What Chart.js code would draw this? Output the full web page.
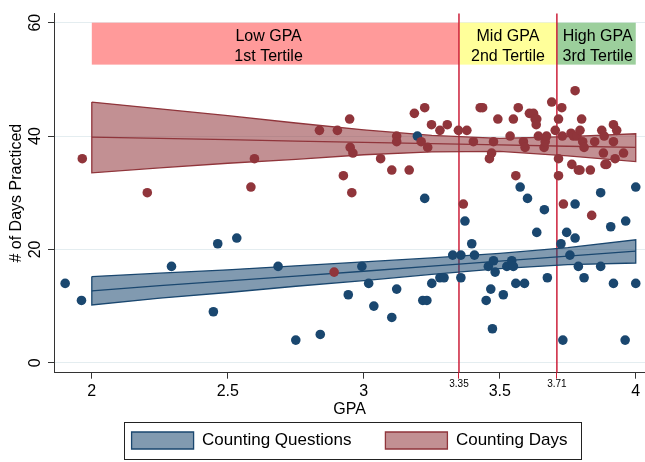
<!DOCTYPE html>
<html lang="en">
<head>
<meta charset="UTF-8">
<title>Days practiced by GPA</title>
<script src="https://cdn.jsdelivr.net/npm/chart.js@4"></script>
<style>
  html, body { margin: 0; padding: 0; background: #fff; }
  #wrap { width: 645px; height: 462px; }
</style>
</head>
<body>
<div id="wrap"><canvas id="chart" width="645" height="462"></canvas></div>
<script>
// Counting Questions (blue dots): GPA and # of days
const questionsGpa = [1.902, 1.962, 2.293, 2.447, 2.463, 2.533, 2.685, 2.750, 2.840, 2.943,
  2.993, 3.018, 3.037, 3.103, 3.121, 3.197, 3.217, 3.224, 3.232, 3.250,
  3.280, 3.295, 3.327, 3.357, 3.357, 3.372, 3.397, 3.407, 3.450, 3.458,
  3.467, 3.473, 3.477, 3.483, 3.513, 3.526, 3.544, 3.550, 3.559, 3.575,
  3.591, 3.602, 3.636, 3.664, 3.675, 3.725, 3.732, 3.746, 3.758, 3.777,
  3.777, 3.789, 3.810, 3.871, 3.871, 3.908, 3.918, 3.961, 3.963, 4.000, 4.000];
const questionsDays = [14, 11, 17, 9, 21, 22, 17, 4, 5, 12,
  17, 14, 10, 8, 13, 40, 11, 29, 11, 14,
  15, 15, 19, 19, 15, 25, 21, 19, 11, 17,
  13, 6, 18, 16, 12, 17, 18, 17, 14, 31,
  14, 29, 23, 27, 15, 21, 4, 23, 19, 22,
  28, 17, 15, 30, 17, 24, 14, 4, 25, 31, 14];

// Counting Days (red dots)
const daysGpa = [1.965, 2.204, 2.585, 2.598, 2.837, 2.891, 2.903, 2.925, 2.948, 2.950,
  2.956, 2.960, 3.062, 3.103, 3.121, 3.121, 3.167, 3.186, 3.211, 3.224,
  3.235, 3.249, 3.280, 3.307, 3.348, 3.366, 3.379, 3.403, 3.428, 3.437,
  3.462, 3.470, 3.477, 3.493, 3.538, 3.550, 3.559, 3.568, 3.587, 3.593,
  3.609, 3.624, 3.630, 3.636, 3.634, 3.642, 3.663, 3.667, 3.672, 3.691,
  3.704, 3.716, 3.716, 3.716, 3.728, 3.730, 3.734, 3.762, 3.765, 3.771,
  3.777, 3.784, 3.789, 3.795, 3.795, 3.801, 3.805, 3.810, 3.833, 3.838,
  3.849, 3.875, 3.884, 3.881, 3.887, 3.893, 3.918, 3.930, 3.918, 3.924, 3.955];
const daysDays = [36, 30, 31, 36, 41, 16, 41, 33, 43, 38,
  30, 37, 36, 34, 40, 39, 34, 44, 39, 45,
  38, 42, 41, 42, 41, 28, 41, 39, 45, 45,
  36, 37, 39, 43, 40, 43, 33, 45, 39, 38,
  44, 44, 43, 43, 42, 40, 38, 39, 40, 46,
  41, 43, 36, 33, 45, 40, 28, 40.5, 35, 40,
  48, 40, 34, 41, 34, 43, 39, 38, 34, 26,
  39, 41, 40, 37, 35, 35, 42, 41, 39, 36, 37];

// Linear fit with 95% CI
const fitGpa = [2, 2.25, 2.5, 2.75, 3, 3.25, 3.5, 3.75, 4];
const questionsFit   = [12.7, 13.6, 14.45, 15.3, 16.15, 17.05, 17.95, 18.8, 19.7];
const questionsUpper = [15.2, 15.8, 16.4, 17.1, 17.8, 18.5, 19.3, 20.3, 21.7];
const questionsLower = [10.2, 11.4, 12.4, 13.5, 14.5, 15.6, 16.6, 17.3, 17.6];
const daysFit   = [39.8, 39.6, 39.35, 39.1, 38.9, 38.65, 38.45, 38.2, 38.0];
const daysUpper = [46.0, 44.8, 43.6, 42.3, 41.1, 40.1, 39.6, 39.9, 40.4];
const daysLower = [33.5, 34.4, 35.2, 35.9, 36.7, 37.2, 37.3, 36.5, 35.5];

// GPA tertiles
const tertileCuts = [2, 3.35, 3.71, 4];
const tertileNames = [['Low GPA', '1st Tertile'], ['Mid GPA', '2nd Tertile'], ['High GPA', '3rd Tertile']];
const tertileLabelGpa = [2.65, 3.53, 3.86];

const xTicks = [2, 2.5, 3, 3.35, 3.5, 3.71, 4];
const yTicks = [0, 20, 40, 60];

const FONT = '"Liberation Sans", Arial, Helvetica, sans-serif';
const BLUE = '#1a476f', BLUE_FILL = 'rgba(26,71,111,0.55)';
const RED = '#90353b', RED_FILL = 'rgba(144,53,59,0.55)';
const CUT_COLOR = '#cc1f3a';
const AXIS_COLOR = '#333';
const TERTILE_COLORS = ['#ff9a9a', '#ffff9a', '#9ccf9c'];
const LEGEND_PAD = 34;
const LEGEND_SWATCH_TOP = 432;

Chart.defaults.font.family = FONT;
Chart.defaults.color = '#000';

const isCut = v => v === 3.35 || v === 3.71;
const points = (xs, ys) => xs.map((x, i) => ({ x, y: ys[i] }));
// closed outline: upper edge left->right, lower edge right->left
function bandOutline(xs, up, lo) {
    const pts = points(xs, up);
    for (let i = xs.length - 1; i >= 0; i--) pts.push({ x: xs[i], y: lo[i] });
    pts.push(pts[0]);
    return pts;
}

const tertilePlugin = {
    id: 'tertiles',
    beforeDatasetsDraw(chart) {
        const { ctx, chartArea, scales: { x, y } } = chart;
        ctx.save();
        const yTop = y.getPixelForValue(60), yBot = y.getPixelForValue(52.6);
        ctx.font = '16px ' + FONT;
        ctx.textAlign = 'center';
        ctx.textBaseline = 'middle';
        for (let i = 0; i < 3; i++) {
            const x0 = x.getPixelForValue(tertileCuts[i]);
            const x1 = x.getPixelForValue(tertileCuts[i + 1]);
            ctx.fillStyle = TERTILE_COLORS[i];
            ctx.fillRect(x0, yTop, x1 - x0, yBot - yTop);
            ctx.fillStyle = '#000';
            const cx = x.getPixelForValue(tertileLabelGpa[i]);
            ctx.fillText(tertileNames[i][0], cx, y.getPixelForValue(57.6));
            ctx.fillText(tertileNames[i][1], cx, y.getPixelForValue(54.1));
        }
        ctx.strokeStyle = CUT_COLOR;
        ctx.lineWidth = 1.5;
        tertileCuts.slice(1, -1).forEach(v => {
            const px = x.getPixelForValue(v);
            ctx.beginPath();
            ctx.moveTo(px, chartArea.top);
            ctx.lineTo(px, chartArea.bottom);
            ctx.stroke();
        });
        ctx.restore();
    }
};

// legend sits under the x title, centred on the plot, with a frame round it
const legendFrame = {
    id: 'legendFrame',
    afterLayout(chart) {
        const lg = chart.legend;
        lg.left = chart.chartArea.left;
        lg.right = chart.width;
        lg.width = lg.right - lg.left;
        lg.top = LEGEND_SWATCH_TOP - LEGEND_PAD;
        lg.bottom = chart.height;
        lg.height = lg.bottom - lg.top;
    },
    afterDraw(chart) {
        const boxes = chart.legend.legendHitBoxes;
        if (!boxes || !boxes.length) return;
        const left = Math.min(...boxes.map(b => b.left)) - 8;
        const right = Math.max(...boxes.map(b => b.left + b.width)) + 13;
        const top = LEGEND_SWATCH_TOP - 10, bottom = LEGEND_SWATCH_TOP + 17 + 10;
        const ctx = chart.ctx;
        ctx.save();
        ctx.strokeStyle = '#222';
        ctx.lineWidth = 1;
        ctx.strokeRect(Math.round(left) + 0.5, top + 0.5, Math.round(right - left), bottom - top);
        ctx.restore();
    }
};

new Chart(document.getElementById('chart'), {
    type: 'scatter',
    data: {
        datasets: [
            { type: 'line', label: 'Counting Questions', inLegend: true, data: bandOutline(fitGpa, questionsUpper, questionsLower),
              fill: 'shape', backgroundColor: BLUE_FILL, borderColor: BLUE, borderWidth: 1.3, pointRadius: 0, tension: 0, order: 10 },
            { type: 'line', label: 'Counting Days', inLegend: true, data: bandOutline(fitGpa, daysUpper, daysLower),
              fill: 'shape', backgroundColor: RED_FILL, borderColor: RED, borderWidth: 1.3, pointRadius: 0, tension: 0, order: 11 },
            { type: 'line', label: 'Questions fit', data: points(fitGpa, questionsFit),
              borderColor: BLUE, borderWidth: 1.3, pointRadius: 0, fill: false, order: 5 },
            { type: 'line', label: 'Days fit', data: points(fitGpa, daysFit),
              borderColor: RED, borderWidth: 1.3, pointRadius: 0, fill: false, order: 6 },
            { label: 'Questions', data: points(questionsGpa, questionsDays),
              backgroundColor: BLUE, borderWidth: 0, pointRadius: 4.8, order: 2 },
            { label: 'Days', data: points(daysGpa, daysDays),
              backgroundColor: RED, borderWidth: 0, pointRadius: 4.8, order: 1 }
        ]
    },
    options: {
        responsive: false,
        animation: false,
        layout: { padding: { top: 10, right: 0, bottom: 0, left: 0 }, autoPadding: false },
        plugins: {
            legend: {
                position: 'bottom',
                maxHeight: 1,
                labels: {
                    boxWidth: 62, boxHeight: 17, padding: LEGEND_PAD, color: '#000',
                    font: { size: 17 },
                    filter: (item, data) => !!data.datasets[item.datasetIndex].inLegend
                }
            },
            tooltip: { enabled: false }
        },
        scales: {
            x: {
                type: 'linear', min: 1.861, max: 4.034,
                afterBuildTicks: s => { s.ticks = xTicks.map(v => ({ value: v })); },
                afterFit: s => { s.height = 88.3; },
                grid: { drawOnChartArea: false, tickLength: 6,
                        tickColor: c => (c.tick && isCut(c.tick.value)) ? CUT_COLOR : AXIS_COLOR },
                border: { color: AXIS_COLOR, width: 1 },
                ticks: {
                    padding: 3, color: '#000', maxRotation: 0, autoSkip: false,
                    callback: v => String(v),
                    font: c => (c.tick && isCut(c.tick.value)) ? { size: 10, lineHeight: 0.6 } : { size: 16 }
                },
                title: { display: true, text: 'GPA', color: '#000', font: { size: 16 }, padding: { top: 0, bottom: 42 } }
            },
            y: {
                min: -1.75, max: 61.6,
                afterBuildTicks: s => { s.ticks = yTicks.map(v => ({ value: v })); },
                afterFit: s => { s.width = 54; },
                grid: { color: '#e4edf0', tickColor: AXIS_COLOR, tickLength: 6 },
                border: { color: AXIS_COLOR, width: 1 },
                ticks: { minRotation: 90, maxRotation: 90, crossAlign: 'center', padding: 4, color: '#000', font: { size: 16 } },
                title: { display: true, text: '# of Days Practiced', color: '#000', font: { size: 16 }, padding: { top: 7, bottom: 0 } }
            }
        }
    },
    plugins: [tertilePlugin, legendFrame]
});
</script>
</body>
</html>
